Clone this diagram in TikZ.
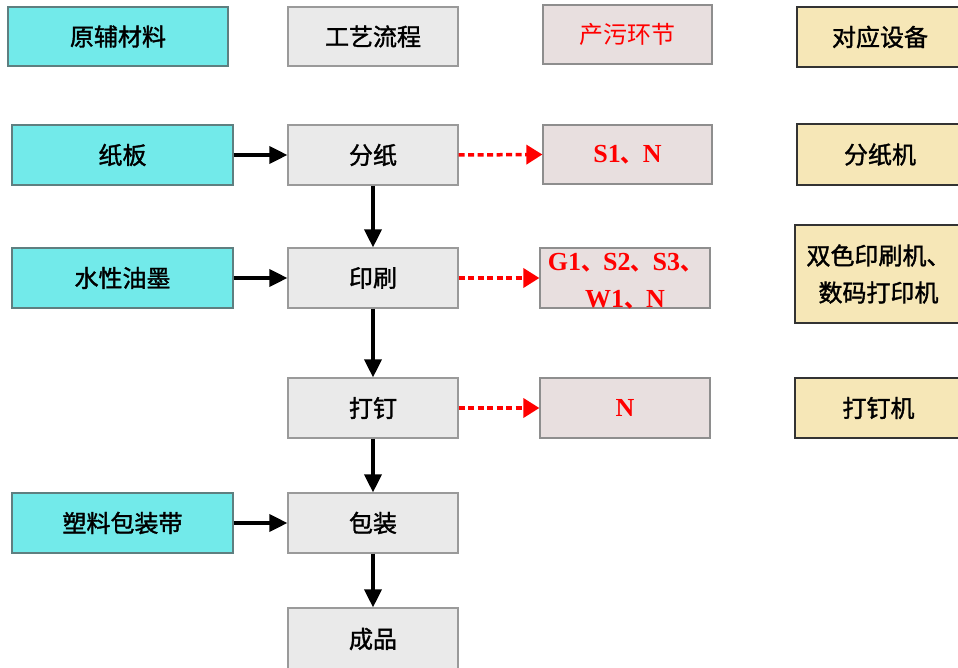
\documentclass[tikz,border=0pt]{standalone}
\usepackage{fontspec}
\setmainfont{Liberation Serif}
\newfontfamily\cjk[FakeBold=1.5]{Noto Sans CJK SC}
\newfontfamily\cjkp{Noto Sans CJK SC}
\usetikzlibrary{arrows.meta}
\definecolor{cyanfill}{HTML}{72EAEA}
\definecolor{cyanline}{HTML}{5F7F80}
\definecolor{grayfill}{HTML}{EAEAEA}
\definecolor{grayline}{HTML}{9A9A9A}
\definecolor{pinkfill}{HTML}{E8DFDF}
\definecolor{pinkline}{HTML}{8E8E8E}
\definecolor{tanfill}{HTML}{F6E7B7}
\definecolor{tanline}{HTML}{333333}
\definecolor{redtxt}{HTML}{FF0000}
\newcommand{\dn}{{\cjkp\fontsize{22}{22}\selectfont 、}}
\tikzset{
  base/.style={draw, line width=1.2pt, inner sep=0pt, text=black,
    font=\cjk\fontsize{24}{37}\selectfont, align=center},
  rawbox/.style={base, fill=cyanfill, draw=cyanline, minimum width=221pt, minimum height=60pt},
  procbox/.style={base, fill=grayfill, draw=grayline, minimum width=170pt, minimum height=60pt},
  pollbox/.style={base, fill=pinkfill, draw=pinkline, minimum width=170pt, minimum height=60pt},
  equipbox/.style={base, fill=tanfill, draw=tanline, minimum width=167pt, minimum height=60pt},
  redtext/.style={text=redtxt, font=\bfseries\fontsize{26}{37}\selectfont, inner sep=0pt, align=center},
  blk/.style={line width=3.5pt, -{Triangle[length=18pt,width=17pt]}},
  reddash/.style={draw=redtxt, line width=3.5pt, dash pattern=on 6pt off 3.5pt,
    -{Triangle[length=16pt,width=19pt]}},
}
\begin{document}
\begin{tikzpicture}[x=1pt,y=-1pt]
\useasboundingbox (0,0) rectangle (958,668);
% headers
\node[rawbox, minimum width=220pt, minimum height=59pt] (h1) at (118,36.5) {原辅材料};
\node[procbox, minimum height=59pt] (h2) at (373,36.5) {工艺流程};
\node[pollbox, minimum width=169pt, minimum height=59pt, text=redtxt,
  font=\cjkp\fontsize{24}{37}\selectfont] (h3) at (627.5,34.5) {产污环节};
\node[equipbox, minimum width=166pt] (h4) at (880,37) {对应设备};
% raw materials
\node[rawbox] (a1) at (122.5,155) {纸板};
\node[rawbox] (a2) at (122.5,278) {水性油墨};
\node[rawbox] (a3) at (122.5,523) {塑料包装带};
% process
\node[procbox] (p1) at (373,155) {分纸};
\node[procbox] (p2) at (373,278) {印刷};
\node[procbox] (p3) at (373,408) {打钉};
\node[procbox] (p4) at (373,523) {包装};
\node[procbox, minimum height=62pt] (p5) at (373,639) {成品};
% pollution
\node[pollbox, minimum width=169pt, minimum height=59pt] (e1) at (627.5,154.5) {};
\node[redtext] (e1t) at (e1.center) {S1\dn N};
\node[pollbox] (e2) at (625,278) {};
\node[redtext, anchor=north] (e2t) at (625,253) {G1\dn S2\dn S3\dn\\W1\dn N};
\node[pollbox] (e3) at (625,408) {};
\node[redtext] (e3t) at (e3.center) {N};
% equipment
\node[equipbox, minimum width=166pt, minimum height=61pt] (d1) at (880,154.5) {分纸机};
\node[equipbox, minimum height=98pt] (d2) at (878.5,274) {双色印刷机、\\数码打印机};
\node[equipbox] (d3) at (878.5,408) {打钉机};
% arrows
\draw[blk] (a1.east) -- (p1.west);
\draw[blk] (a2.east) -- (p2.west);
\draw[blk] (a3.east) -- (p4.west);
\draw[blk] (p1.south) -- (p2.north);
\draw[blk] (p2.south) -- (p3.north);
\draw[blk] (p3.south) -- (p4.north);
\draw[blk] (p4.south) -- (p5.north);
\draw[reddash] (p1.east) -- (e1.west);
\draw[reddash] (p2.east) -- (e2.west);
\draw[reddash] (p3.east) -- (e3.west);
\end{tikzpicture}
\end{document}
